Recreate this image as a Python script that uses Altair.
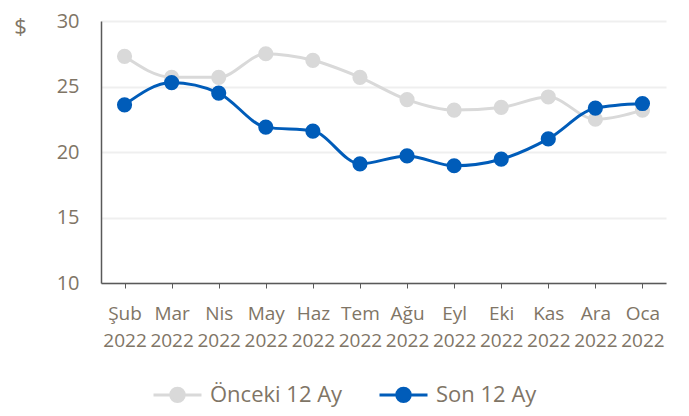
import altair as alt
import pandas as pd

months = ["Şub", "Mar", "Nis", "May", "Haz", "Tem", "Ağu", "Eyl", "Eki", "Kas", "Ara", "Oca"]
years = ["2022"] * 12
prev_12 = [27.3, 25.7, 25.7, 27.5, 27.0, 25.7, 24.0, 23.2, 23.4, 24.2, 22.5, 23.2]
last_12 = [23.6, 25.3, 24.5, 21.9, 21.6, 19.1, 19.7, 18.95, 19.45, 21.0, 23.35, 23.7]
series_names = ["Önceki 12 Ay", "Son 12 Ay"]
series_colors = ["#d9d9d9", "#005cb9"]

rows = []
for name, vals in zip(series_names, [prev_12, last_12]):
    for m, y, v in zip(months, years, vals):
        rows.append({"month": m, "label": m + "|" + y, "value": v, "series": name})
df = pd.DataFrame(rows)

font = "Open Sans"
text_color = "#7f7566"
label_order = [m + "|" + y for m, y in zip(months, years)]

x_enc = alt.X(
    "label:N",
    sort=label_order,
    scale=alt.Scale(type="point", padding=0.5),
    axis=alt.Axis(
        title=None,
        labelAngle=0,
        labelExpr="split(datum.label, '|')",
        labelFont=font,
        labelFontSize=19,
        labelColor=text_color,
        labelLineHeight=27,
        labelPadding=16,
        tickColor="#595959",
        tickSize=5,
        domainColor="#595959",
        domainWidth=1.5,
        grid=False,
    ),
)
y_enc = alt.Y(
    "value:Q",
    scale=alt.Scale(domain=[10, 30], nice=False, zero=False),
    axis=alt.Axis(
        values=[10, 15, 20, 25, 30],
        title="$",
        titleAngle=0,
        titleX=-81,
        titleY=5,
        titleAlign="center",
        titleBaseline="middle",
        titleFont=font,
        titleFontSize=22,
        titleFontWeight="normal",
        titleColor=text_color,
        labelFont=font,
        labelFontSize=20,
        labelColor=text_color,
        labelPadding=22,
        ticks=False,
        domainColor="#595959",
        domainWidth=1.5,
        gridColor="#efefef",
        gridWidth=2,
    ),
)
color_enc = alt.Color(
    "series:N",
    scale=alt.Scale(domain=series_names, range=series_colors),
    legend=alt.Legend(
        title=None,
        orient="none",
        direction="horizontal",
        legendX=51,
        legendY=348,
        symbolType="M-1,0H1M-0.28,0A0.28,0.28 0 1,1 0.28,0A0.28,0.28 0 1,1 -0.28,0Z",
        symbolSize=2304,
        symbolStrokeWidth=3,
        symbolOpacity=1,
        labelFont=font,
        labelFontSize=22,
        labelColor=text_color,
        labelOffset=7,
        columnPadding=30,
    ),
)

base = alt.Chart(df)
lines = base.mark_line(interpolate="monotone", strokeWidth=3).encode(x=x_enc, y=y_enc, color=color_enc)
points = base.mark_circle(size=230, opacity=1).encode(x=x_enc, y=y_enc, color=color_enc)

chart = (
    alt.layer(lines, points)
    .properties(
        width=565,
        height=262,
        autosize=alt.AutoSizeParams(type="none"),
        padding={"left": 93, "top": 13, "right": 15, "bottom": 130},
    )
    .configure_view(stroke=None)
    .configure_legend(symbolFillColor=None)
)

chart.save("out.html", embed_options={"renderer": "svg", "actions": False})
